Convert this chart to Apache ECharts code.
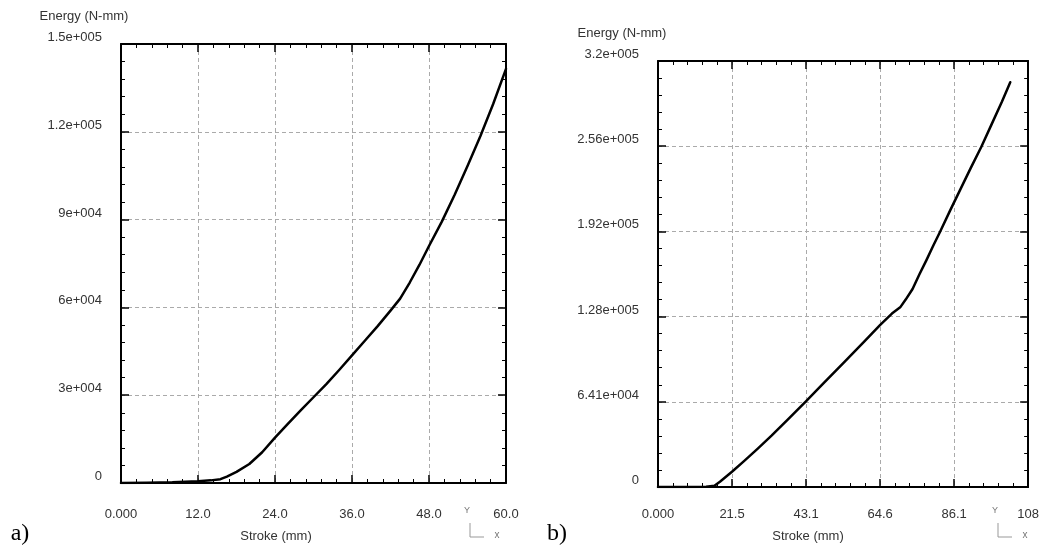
<!DOCTYPE html>
<html>
<head>
<meta charset="utf-8">
<script src="https://cdn.jsdelivr.net/npm/echarts@6/dist/echarts.min.js"></script>
<style>
html,body{margin:0;padding:0;background:#fff;}
#chart{width:1042px;height:549px;}
</style>
</head>
<body>
<div id="chart"></div>
<script>
// ---- Data ----
// Panel a)
const strokeA = [0, 4, 8, 12, 14, 15.5, 16.5, 18, 20, 22, 24, 26, 28, 30, 32, 34, 36, 38, 40, 42, 43.5, 45, 46.5, 48, 50, 52, 54, 56, 58, 60];
const energyA = [0, 100, 250, 600, 900, 1300, 2200, 3800, 6500, 10500, 15500, 20200, 24800, 29300, 33800, 38600, 43600, 48600, 53600, 58900, 63000, 68500, 74500, 81000, 89300, 98500, 108300, 118500, 129500, 141500];
const xTicksA = ['0.000', '12.0', '24.0', '36.0', '48.0', '60.0'];
const yTicksA = ['0', '3e+004', '6e+004', '9e+004', '1.2e+005', '1.5e+005'];
const xStepA = 12, xMaxA = 60, yStepA = 30000, yMaxA = 150000;

// Panel b)
const strokeB = [0, 8, 14, 16.4, 18, 21.5, 25, 29, 33, 38, 43, 48, 54, 60, 64.6, 68, 70.5, 72, 74, 76, 78, 80, 82, 85, 88, 91, 94, 97, 100, 102.4];
const energyB = [0, 0, 200, 1000, 4000, 11500, 19500, 28900, 38600, 51500, 64500, 77800, 93500, 109500, 121900, 130500, 135500, 141000, 149000, 160000, 170500, 181500, 192000, 208500, 224500, 240500, 256000, 273000, 290000, 304500];
const xTicksB = ['0.000', '21.5', '43.1', '64.6', '86.1', '108'];
const yTicksB = ['0', '6.41e+004', '1.28e+005', '1.92e+005', '2.56e+005', '3.2e+005'];
const xStepB = 21.52, xMaxB = 107.6, yStepB = 64100, yMaxB = 320500;

const yName = 'Energy (N-mm)';
const xName = 'Stroke (mm)';
const panelLabels = ['a)', 'b)'];

// ---- Styling helpers ----
const FONT = '"Liberation Sans", Arial, sans-serif';
const TXT = '#333';

function pick(labels, step) {
  return function (v) {
    const i = Math.round(v / step);
    return labels[i] !== undefined ? labels[i] : '';
  };
}

function makeAxis(opts) {
  return Object.assign({
    type: 'value',
    axisLine: { show: true, onZero: false, lineStyle: { color: '#000', width: 2 } },
    axisTick: { show: true, inside: true, length: 8, lineStyle: { color: '#000', width: 1.5 } },
    minorTick: { show: true, splitNumber: 5, length: 4, lineStyle: { color: '#000', width: 1 } },
    splitLine: { show: false },
    minorSplitLine: { show: false },
    axisLabel: { show: false }
  }, opts);
}

function labelStyle(extra) {
  return Object.assign({ show: true, color: TXT, fontFamily: FONT, fontSize: 13 }, extra);
}

const gridLine = { show: true, lineStyle: { color: '#aaa', type: [4, 3], width: 1 } };

const zip = (xs, ys) => xs.map((x, i) => [x, ys[i]]);

const grids = [
  { left: 121, top: 44, width: 385, height: 439 },
  { left: 658, top: 61, width: 374, height: 426 }
];

const panels = [
  { xStep: xStepA, xMax: xMaxA, yStep: yStepA, yMax: yMaxA, xTicks: xTicksA, yTicks: yTicksA, data: zip(strokeA, energyA), xMargin: 25 },
  { xStep: xStepB, xMax: xMaxB, yStep: yStepB, yMax: yMaxB, xTicks: xTicksB, yTicks: yTicksB, data: zip(strokeB, energyB), xMargin: 21 }
];

const xAxes = [], yAxes = [], series = [];
panels.forEach((p, gi) => {
  xAxes.push(makeAxis({
    gridIndex: gi, position: 'bottom', min: 0, max: p.xMax, interval: p.xStep,
    splitLine: gridLine,
    axisLabel: labelStyle({ margin: p.xMargin, formatter: pick(p.xTicks, p.xStep), showMinLabel: true, showMaxLabel: true })
  }));
  xAxes.push(makeAxis({ gridIndex: gi, position: 'top', min: 0, max: p.xMax, interval: p.xStep }));
  yAxes.push(makeAxis({
    gridIndex: gi, position: 'left', min: 0, max: p.yMax, interval: p.yStep,
    splitLine: gridLine,
    axisLabel: labelStyle({ margin: 19, verticalAlign: 'bottom', formatter: pick(p.yTicks, p.yStep), showMinLabel: true, showMaxLabel: true })
  }));
  yAxes.push(makeAxis({ gridIndex: gi, position: 'right', min: 0, max: p.yMax, interval: p.yStep }));

  series.push({
    type: 'line',
    xAxisIndex: gi * 2,
    yAxisIndex: gi * 2,
    data: p.data,
    showSymbol: false,
    smooth: false,
    lineStyle: { color: '#000', width: 2.5, join: 'round', cap: 'round' },
    animation: false,
    z: 5
  });
});

const graphic = [];
const yNamePos = [[84, 16], [622, 33]];
const xNamePos = [[276, 536], [808, 536]];
const panelPos = [[20, 534], [557, 534]];
yNamePos.forEach(([x, y]) => graphic.push({ type: 'text', position: [x, y], style: { text: yName, fill: TXT, font: '13px ' + FONT, textAlign: 'center', textVerticalAlign: 'middle' } }));
xNamePos.forEach(([x, y]) => graphic.push({ type: 'text', position: [x, y], style: { text: xName, fill: TXT, font: '13px ' + FONT, textAlign: 'center', textVerticalAlign: 'middle' } }));
panelPos.forEach(([x, y], i) => graphic.push({ type: 'text', position: [x, y], style: { text: panelLabels[i], fill: '#000', font: '24px "Liberation Serif", "Times New Roman", serif', textAlign: 'center', textVerticalAlign: 'middle' } }));
[470, 998].forEach(x0 => {
  graphic.push({ type: 'text', position: [x0 - 3, 511], style: { text: 'Y', fill: '#777', font: '9px ' + FONT, textAlign: 'center', textVerticalAlign: 'middle' } });
  graphic.push({ type: 'polyline', shape: { points: [[x0, 523], [x0, 537], [x0 + 14, 537]] }, style: { stroke: '#999', lineWidth: 1, fill: null } });
  graphic.push({ type: 'text', position: [x0 + 27, 535], style: { text: 'x', fill: '#777', font: '10px ' + FONT, textAlign: 'center', textVerticalAlign: 'middle' } });
});

const chart = echarts.init(document.getElementById('chart'), null, { renderer: 'canvas' });
chart.setOption({
  backgroundColor: '#fff',
  animation: false,
  grid: grids,
  xAxis: xAxes,
  yAxis: yAxes,
  series: series,
  graphic: graphic
});
</script>
</body>
</html>
